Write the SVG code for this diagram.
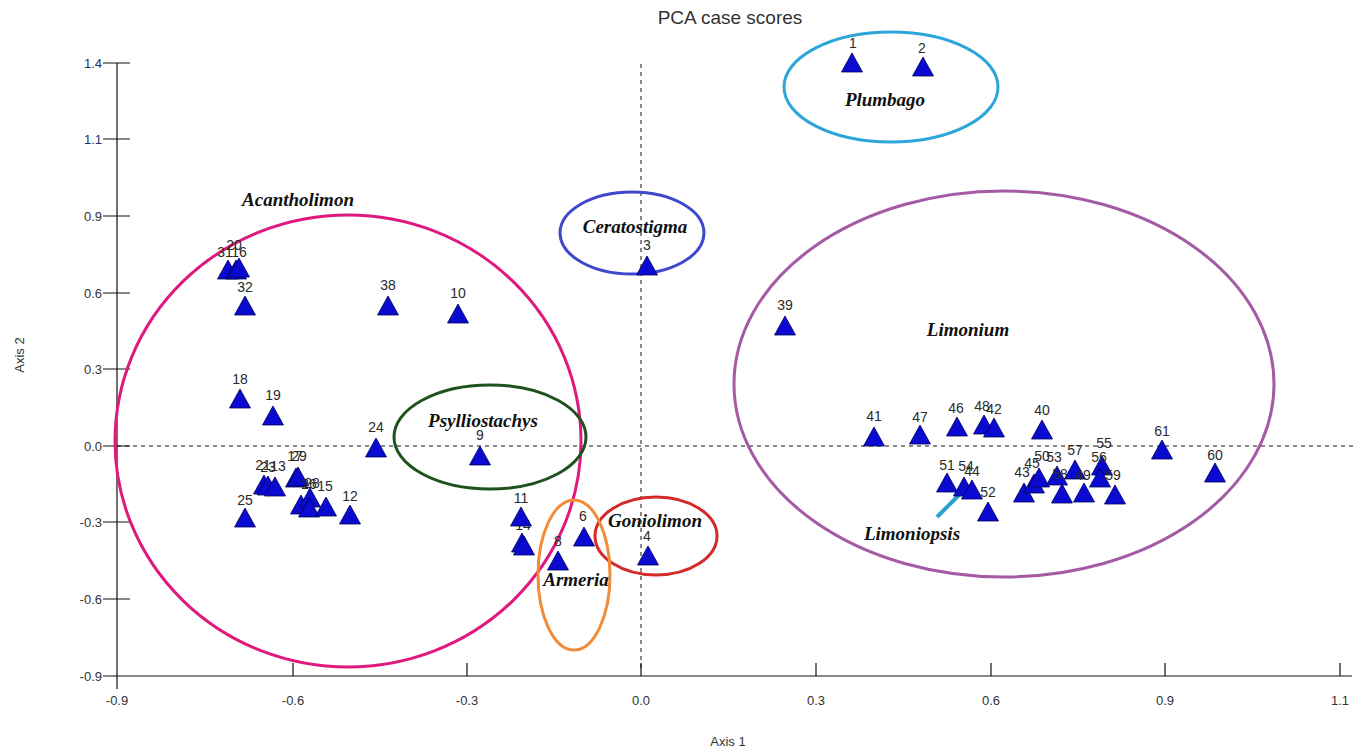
<svg xmlns="http://www.w3.org/2000/svg" width="1356" height="752" viewBox="0 0 1356 752">
<defs>
<style>
.ax{stroke:#111;stroke-width:1.2;fill:none}
.dash{stroke:#111;stroke-width:1;stroke-dasharray:4,4;fill:none}
.tl{font-family:"Liberation Sans",Arial,sans-serif;font-size:13px;fill:#333}
.tlb{font-family:"Liberation Sans",Arial,sans-serif;font-size:13px;fill:#1c2f6e}
.num{font-family:"Liberation Sans",Arial,sans-serif;font-size:14px;fill:#2a2a2a;text-anchor:middle}
.sp{font-family:"Liberation Serif","Times New Roman",serif;font-size:19px;font-weight:bold;font-style:italic;fill:#111;text-anchor:middle}
.el{fill:none;stroke-width:3}
.tri{fill:#0a0ad0;stroke:#00005a;stroke-width:0.8}
</style>
<polygon id="t" points="0,-10 10.5,9 -10.5,9"/>
</defs>
<rect width="1356" height="752" fill="#fff"/>
<text x="730" y="24" font-family="Liberation Sans,Arial,sans-serif" font-size="19" fill="#333" text-anchor="middle">PCA case scores</text>
<g id="axes">
<line class="dash" x1="641" y1="64" x2="641" y2="670"/>
<line class="dash" x1="117" y1="446" x2="1356" y2="446"/>
<line class="ax" x1="117" y1="63" x2="117" y2="689"/>
<line class="ax" x1="103" y1="676" x2="1352" y2="676"/>
<path class="ax" d="M103 63H130M103 139H130M103 216H130M103 293H130M103 369H130M103 446H130M103 522H130M103 599H130"/>
<path class="ax" d="M293 663V676M467 663V676M641 663V676M816 663V676M991 663V676M1165 663V676M1340 663V676"/>
<g text-anchor="end">
<text class="tlb" x="102" y="68">1.4</text>
<text class="tlb" x="102" y="144">1.1</text>
<text class="tl" x="102" y="221">0.9</text>
<text class="tl" x="102" y="298">0.6</text>
<text class="tl" x="102" y="374">0.3</text>
<text class="tl" x="102" y="451">0.0</text>
<text class="tl" x="102" y="527">-0.3</text>
<text class="tl" x="102" y="604">-0.6</text>
<text class="tl" x="102" y="681">-0.9</text>
</g>
<g text-anchor="middle">
<text class="tl" x="117" y="705">-0.9</text>
<text class="tl" x="293" y="705">-0.6</text>
<text class="tl" x="467" y="705">-0.3</text>
<text class="tl" x="641" y="705">0.0</text>
<text class="tl" x="816" y="705">0.3</text>
<text class="tl" x="991" y="705">0.6</text>
<text class="tl" x="1165" y="705">0.9</text>
<text class="tl" x="1340" y="705">1.1</text>
<text class="tl" x="728" y="746">Axis 1</text>
<text class="tl" transform="translate(24,355) rotate(-90)">Axis 2</text>
</g>
</g>
<g id="groups">
<g id="acantholimon"><ellipse class="el" stroke="#e0197f" cx="348" cy="441" rx="233" ry="226"/><text class="sp" x="298" y="206">Acantholimon</text></g>
<g id="psylliostachys"><ellipse class="el" stroke="#1d521d" cx="490" cy="437" rx="96" ry="52"/><text class="sp" x="483" y="427">Psylliostachys</text></g>
<g id="ceratostigma"><ellipse class="el" stroke="#3f48cc" cx="632" cy="233" rx="72" ry="41"/><text class="sp" x="635" y="233">Ceratostigma</text></g>
<g id="plumbago"><ellipse class="el" stroke="#2ca6d8" cx="891" cy="87" rx="107" ry="55"/><text class="sp" x="885" y="106">Plumbago</text></g>
<g id="limonium"><ellipse class="el" stroke="#a45aa4" cx="1004" cy="384" rx="270" ry="193"/><text class="sp" x="968" y="336">Limonium</text></g>
<g id="goniolimon"><ellipse class="el" stroke="#d42a2a" cx="656" cy="536" rx="61" ry="39"/><text class="sp" x="655" y="527">Goniolimon</text></g>
<g id="armeria"><ellipse class="el" stroke="#f28c38" cx="574" cy="575" rx="36" ry="75"/><text class="sp" x="576" y="586">Armeria</text></g>
<g id="limoniopsis"><text class="sp" x="912" y="540">Limoniopsis</text></g>
</g>
<g id="connectors">
<line x1="937" y1="517" x2="962" y2="492" stroke="#2ca0d0" stroke-width="4"/>
</g>
<g id="points">
<g id="p1"><text class="num" x="853" y="48">1</text><use href="#t" class="tri" x="852" y="63"/></g>
<g id="p2"><text class="num" x="922" y="53">2</text><use href="#t" class="tri" x="923" y="67"/></g>
<g id="p3"><text class="num" x="647" y="250">3</text><use href="#t" class="tri" x="647" y="266"/></g>
<g id="p4"><text class="num" x="647" y="541">4</text><use href="#t" class="tri" x="648" y="556"/></g>
<g id="p6"><text class="num" x="583" y="521">6</text><use href="#t" class="tri" x="584" y="537"/></g>
<g id="p8"><text class="num" x="558" y="546">8</text><use href="#t" class="tri" x="558" y="561"/></g>
<g id="p9"><text class="num" x="480" y="440">9</text><use href="#t" class="tri" x="480" y="456"/></g>
<g id="p10"><text class="num" x="458" y="298">10</text><use href="#t" class="tri" x="458" y="314"/></g>
<g id="p14"><text class="num" x="523" y="530">14</text><use href="#t" class="tri" x="522" y="543"/><use href="#t" class="tri" x="524" y="546"/></g>
<g id="p11"><text class="num" x="521" y="503">11</text><use href="#t" class="tri" x="521" y="517"/></g>
<g id="p12"><text class="num" x="350" y="501">12</text><use href="#t" class="tri" x="350" y="515"/></g>
<g id="p25"><text class="num" x="245" y="505">25</text><use href="#t" class="tri" x="245" y="518"/></g>
<g id="p21"><text class="num" x="263" y="470">21</text><use href="#t" class="tri" x="264" y="485"/></g>
<g id="p23"><text class="num" x="268" y="472">23</text><use href="#t" class="tri" x="268" y="486"/></g>
<g id="p13"><text class="num" x="278" y="471">13</text><use href="#t" class="tri" x="275" y="487"/></g>
<g id="p17"><text class="num" x="295" y="461">17</text><use href="#t" class="tri" x="296" y="478"/></g>
<g id="p29"><text class="num" x="299" y="461">29</text><use href="#t" class="tri" x="298" y="477"/></g>
<g id="p26"><use href="#t" class="tri" x="301" y="505"/><text class="num" x="309" y="489">26</text></g>
<g id="p28"><use href="#t" class="tri" x="310" y="498"/><use href="#t" class="tri" x="309" y="508"/><text class="num" x="312" y="488">28</text></g>
<g id="p15"><text class="num" x="325" y="491">15</text><use href="#t" class="tri" x="326" y="507"/></g>
<g id="p31"><text class="num" x="225" y="257">31</text><use href="#t" class="tri" x="228" y="270"/></g>
<g id="p20"><text class="num" x="234" y="250">20</text><use href="#t" class="tri" x="236" y="270"/></g>
<g id="p16"><text class="num" x="239" y="257">16</text><use href="#t" class="tri" x="239" y="268"/></g>
<g id="p32"><text class="num" x="245" y="292">32</text><use href="#t" class="tri" x="245" y="306"/></g>
<g id="p18"><text class="num" x="240" y="384">18</text><use href="#t" class="tri" x="240" y="399"/></g>
<g id="p19"><text class="num" x="273" y="400">19</text><use href="#t" class="tri" x="273" y="416"/></g>
<g id="p24"><text class="num" x="376" y="432">24</text><use href="#t" class="tri" x="376" y="448"/></g>
<g id="p38"><text class="num" x="388" y="290">38</text><use href="#t" class="tri" x="388" y="306"/></g>
<g id="p39"><text class="num" x="785" y="310">39</text><use href="#t" class="tri" x="785" y="326"/></g>
<g id="p41"><text class="num" x="874" y="421">41</text><use href="#t" class="tri" x="874" y="437"/></g>
<g id="p47"><text class="num" x="920" y="422">47</text><use href="#t" class="tri" x="920" y="435"/></g>
<g id="p46"><text class="num" x="956" y="413">46</text><use href="#t" class="tri" x="957" y="427"/></g>
<g id="p48"><text class="num" x="982" y="411">48</text><use href="#t" class="tri" x="984" y="425"/></g>
<g id="p42"><text class="num" x="994" y="414">42</text><use href="#t" class="tri" x="994" y="428"/></g>
<g id="p40"><text class="num" x="1042" y="415">40</text><use href="#t" class="tri" x="1042" y="430"/></g>
<g id="p61"><text class="num" x="1162" y="436">61</text><use href="#t" class="tri" x="1162" y="450"/></g>
<g id="p60"><text class="num" x="1215" y="460">60</text><use href="#t" class="tri" x="1215" y="473"/></g>
<g id="p51"><text class="num" x="947" y="470">51</text><use href="#t" class="tri" x="947" y="483"/></g>
<g id="p54"><text class="num" x="966" y="471">54</text><use href="#t" class="tri" x="964" y="487"/></g>
<g id="p44"><text class="num" x="972" y="476">44</text><use href="#t" class="tri" x="972" y="490"/></g>
<g id="p52"><text class="num" x="988" y="497">52</text><use href="#t" class="tri" x="988" y="512"/></g>
<g id="p43"><text class="num" x="1022" y="477">43</text><use href="#t" class="tri" x="1024" y="493"/></g>
<g id="p45"><text class="num" x="1032" y="468">45</text><use href="#t" class="tri" x="1034" y="484"/></g>
<g id="p50"><text class="num" x="1042" y="461">50</text><use href="#t" class="tri" x="1039" y="478"/></g>
<g id="p53"><text class="num" x="1054" y="462">53</text><use href="#t" class="tri" x="1057" y="476"/></g>
<g id="p58"><text class="num" x="1060" y="479">58</text><use href="#t" class="tri" x="1062" y="494"/></g>
<g id="p57"><text class="num" x="1075" y="455">57</text><use href="#t" class="tri" x="1075" y="470"/></g>
<g id="p49"><text class="num" x="1083" y="480">49</text><use href="#t" class="tri" x="1084" y="493"/></g>
<g id="p55"><text class="num" x="1104" y="448">55</text><use href="#t" class="tri" x="1102" y="466"/></g>
<g id="p56"><text class="num" x="1099" y="462">56</text><use href="#t" class="tri" x="1100" y="478"/></g>
<g id="p59"><text class="num" x="1113" y="480">59</text><use href="#t" class="tri" x="1115" y="495"/></g>
</g>
</svg>
